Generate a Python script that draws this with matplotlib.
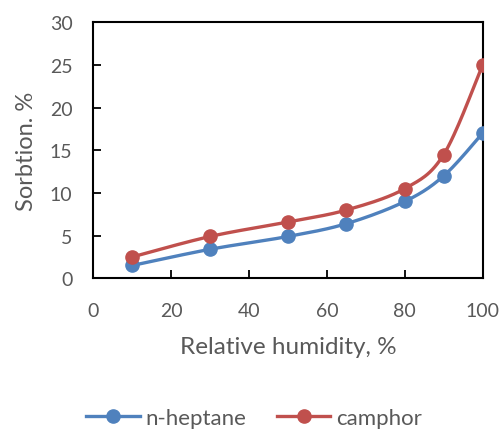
import numpy as np
import matplotlib
matplotlib.use("Agg")
import matplotlib.pyplot as plt
from matplotlib.lines import Line2D

humidity = [10, 30, 50, 65, 80, 90, 100]
heptane = [1.5, 3.4, 4.9, 6.4, 9.0, 12.0, 17.0]
camphor = [2.5, 4.9, 6.6, 8.0, 10.5, 14.5, 25.0]
series_names = ["n-heptane", "camphor"]
colors = ["#4F81BD", "#C0504D"]
x_ticks = [0, 20, 40, 60, 80, 100]
y_ticks = [0, 5, 10, 15, 20, 25, 30]

plt.rcParams['font.family'] = ['Lato', 'DejaVu Sans']
text_color = "#595959"

fig = plt.figure(figsize=(5.03, 4.31), dpi=100)
ax = fig.add_axes([0.1855, 0.352, 0.774, 0.594])


def smooth(xs, ys, sx, sy, n=30):
    # Bezier smoothing (Catmull-Rom style) in normalized space
    P = np.column_stack([np.asarray(xs, float) / sx, np.asarray(ys, float) / sy])
    out = []
    m = len(P)
    for i in range(m - 1):
        p0 = P[i - 1] if i > 0 else P[i]
        p1 = P[i]
        p2 = P[i + 1]
        p3 = P[i + 2] if i + 2 < m else P[i + 1]
        c1 = p1 + (p2 - p0) / 6.0
        c2 = p2 - (p3 - p1) / 6.0
        t = np.linspace(0, 1, n)[:, None]
        seg = ((1 - t) ** 3) * p1 + 3 * ((1 - t) ** 2) * t * c1 + 3 * (1 - t) * t ** 2 * c2 + t ** 3 * p2
        out.append(seg if i == 0 else seg[1:])
    out = np.vstack(out)
    return out[:, 0] * sx, out[:, 1] * sy


handles = []
for ys, name, c in zip([heptane, camphor], series_names, colors):
    sx_, sy_ = smooth(humidity, ys, 100.0, 30.0 * 0.594 * 4.31 / (0.774 * 5.03))
    ax.plot(sx_, sy_, color=c, lw=2.4, solid_capstyle='round', zorder=2)
    ax.plot(humidity, ys, 'o', color=c, ms=9.5, zorder=3)
    handles.append(Line2D([0], [0], color=c, lw=2.4, marker='o', ms=9.5))

ax.set_xlim(0, 100)
ax.set_ylim(0, 30)
ax.set_xticks(x_ticks)
ax.set_yticks(y_ticks)
ax.tick_params(direction='in', length=6, width=1.3, color='black',
               labelsize=14, labelcolor=text_color)
ax.tick_params(axis='y', pad=15)
ax.tick_params(axis='x', pad=17)
for s in ax.spines.values():
    s.set_linewidth(1.5)
    s.set_color('black')

ax.set_xlabel("Relative humidity, %", fontsize=17.5, color=text_color, labelpad=12)
ax.set_ylabel("Sorbtion. %", fontsize=17, color=text_color, labelpad=9)

fig.legend(handles, series_names, loc='center', bbox_to_anchor=(0.505, 0.028),
           ncol=2, frameon=False, fontsize=16, labelcolor=text_color,
           handlelength=2.4, columnspacing=1.4, handletextpad=0.25)

fig.savefig("out.png", dpi=100)
